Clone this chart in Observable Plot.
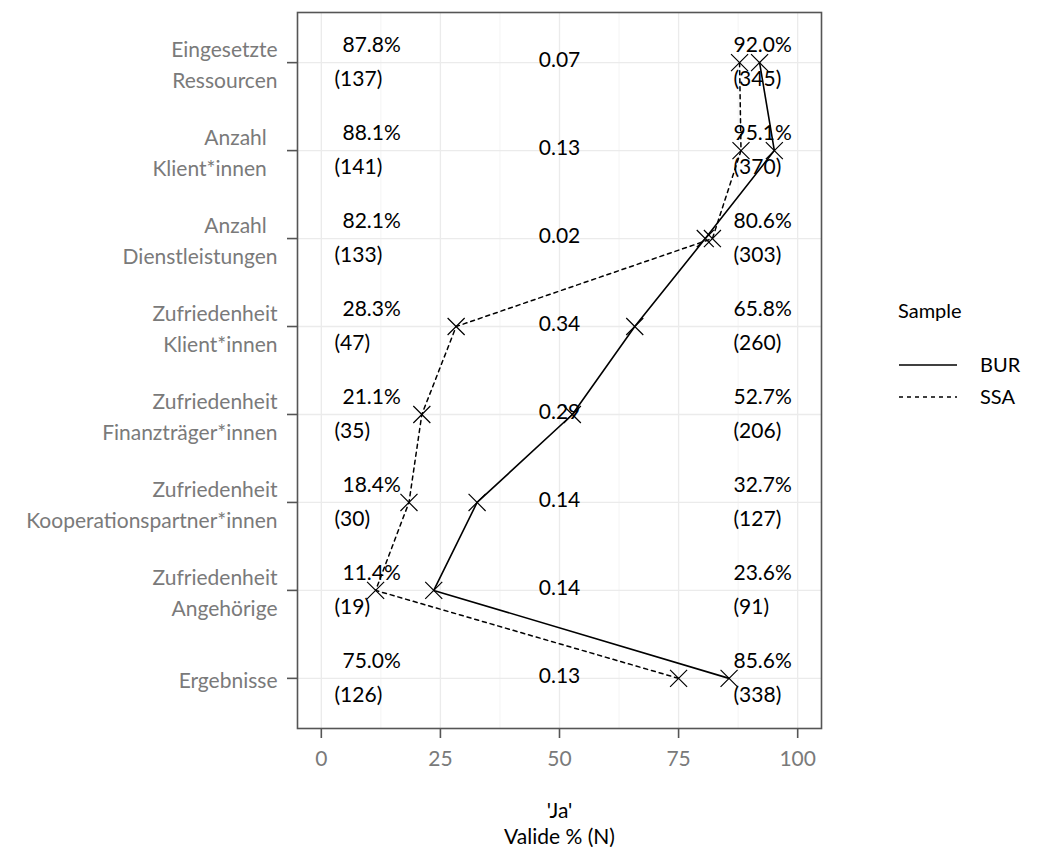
<!DOCTYPE html>
<html>
<head>
<meta charset="utf-8">
<script src="https://cdn.jsdelivr.net/npm/d3@7"></script>
<script src="https://cdn.jsdelivr.net/npm/@observablehq/plot@0.6"></script>
<style>
  body { margin: 0; background: #fff; font-family: Lato, "Open Sans", sans-serif; }
  #wrap { position: relative; width: 1053px; height: 847px; }
  #legend { position: absolute; left: 0; top: 0; }
</style>
</head>
<body>
<div id="wrap"><div id="chart"></div><svg id="legend" width="1053" height="847"></svg></div>
<script>
const categories = [
  "Eingesetzte Ressourcen",
  "Anzahl Klient*innen",
  "Anzahl Dienstleistungen",
  "Zufriedenheit Klient*innen",
  "Zufriedenheit Finanzträger*innen",
  "Zufriedenheit Kooperationspartner*innen",
  "Zufriedenheit Angehörige",
  "Ergebnisse"
];
const tickLabels = [
  "Eingesetzte\nRessourcen",
  "Anzahl\u00a0\u00a0\nKlient*innen\u00a0\u00a0",
  "Anzahl\u00a0\u00a0\nDienstleistungen",
  "Zufriedenheit\nKlient*innen",
  "Zufriedenheit\nFinanzträger*innen",
  "Zufriedenheit\nKooperationspartner*innen",
  "Zufriedenheit\nAngehörige",
  "Ergebnisse"
];
const samples = ["BUR", "SSA"];
const burPct = [92.0, 95.1, 80.6, 65.8, 52.7, 32.7, 23.6, 85.6];
const burN   = [345, 370, 303, 260, 206, 127, 91, 338];
const ssaPct = [87.8, 88.1, 82.1, 28.3, 21.1, 18.4, 11.4, 75.0];
const ssaN   = [137, 141, 133, 47, 35, 30, 19, 126];
const effect = ["0.07", "0.13", "0.02", "0.34", "0.29", "0.14", "0.14", "0.13"];
const xTicks = [0, 25, 50, 75, 100];
const xMinor = [12.5, 37.5, 62.5, 87.5];

const rows = categories.map((c, i) => ({
  cat: c, bur: burPct[i], burN: burN[i], ssa: ssaPct[i], ssaN: ssaN[i], eff: effect[i]
}));
const long = [];
for (const r of rows) {
  long.push({cat: r.cat, sample: "BUR", v: r.bur});
  long.push({cat: r.cat, sample: "SSA", v: r.ssa});
}
const labelOf = new Map(categories.map((c, i) => [c, tickLabels[i]]));
const fmt = v => v.toFixed(1) + "%";
const FS = 21;

const chart = Plot.plot({
  width: 1053,
  height: 847,
  marginLeft: 297,
  marginRight: 232,
  marginTop: 12,
  marginBottom: 119,
  style: {fontFamily: "Lato, 'Open Sans', sans-serif", fontSize: FS + "px", background: "#fff"},
  x: {domain: [-5, 105]},
  y: {type: "point", domain: categories, padding: 0.57, round: false},
  marks: [
    Plot.gridX(xMinor, {stroke: "#f4f4f4", strokeOpacity: 1, strokeWidth: 1}),
    Plot.gridX(xTicks, {stroke: "#ebebeb", strokeOpacity: 1, strokeWidth: 1.3}),
    Plot.gridY(categories, {stroke: "#ebebeb", strokeOpacity: 1, strokeWidth: 1.3}),
    Plot.frame({stroke: "#555", strokeWidth: 1.6}),
    Plot.axisX(xTicks, {tickSize: 10, tickPadding: 13, stroke: "#555", strokeWidth: 1.6, fill: "#7a7a7a", fontSize: FS, label: null}),
    Plot.axisY({tickSize: 10, tickPadding: 10, stroke: "#555", strokeWidth: 1.6, fill: "#7a7a7a", fontSize: FS, lineHeight: 1.5, tickFormat: d => labelOf.get(d), label: null}),
    Plot.line(long.filter(d => d.sample === "SSA"), {x: "v", y: "cat", stroke: "#000", strokeWidth: 1.5, strokeDasharray: "4,4"}),
    Plot.line(long.filter(d => d.sample === "BUR"), {x: "v", y: "cat", stroke: "#000", strokeWidth: 1.6}),
    Plot.dot(long, {x: "v", y: "cat", symbol: "times", r: 7.8, stroke: "#000", strokeWidth: 1.2}),
    Plot.text(rows, {y: "cat", text: d => fmt(d.ssa), frameAnchor: "left", dx: 45, dy: -17, textAnchor: "start", fill: "#000", fontSize: FS}),
    Plot.text(rows, {y: "cat", text: d => "(" + d.ssaN + ")", frameAnchor: "left", dx: 37, dy: 17, textAnchor: "start", fill: "#000", fontSize: FS}),
    Plot.text(rows, {y: "cat", text: d => fmt(d.bur), frameAnchor: "left", dx: 436, dy: -17, textAnchor: "start", fill: "#000", fontSize: FS}),
    Plot.text(rows, {y: "cat", text: d => "(" + d.burN + ")", frameAnchor: "left", dx: 436, dy: 17, textAnchor: "start", fill: "#000", fontSize: FS}),
    Plot.text(rows, {y: "cat", x: () => 50, text: "eff", dy: -2, fill: "#000", fontSize: FS}),
    Plot.text(["'Ja'\nValide % (N)"], {frameAnchor: "bottom", dy: 115, lineHeight: 1.2, fill: "#000", fontSize: FS})
  ]
});
document.getElementById("chart").appendChild(chart);

// Legend
const lg = d3.select("#legend");
lg.append("text").attr("x", 898).attr("y", 311).attr("dy", "0.35em")
  .attr("font-size", 20).attr("fill", "#000").text("Sample");
samples.forEach((s, i) => {
  const y = 365 + i * 32;
  lg.append("line").attr("x1", 899).attr("x2", 957).attr("y1", y).attr("y2", y)
    .attr("stroke", "#000").attr("stroke-width", 1.6)
    .attr("stroke-dasharray", s === "SSA" ? "4,4" : null);
  lg.append("text").attr("x", 980).attr("y", y).attr("dy", "0.35em")
    .attr("font-size", 20).attr("fill", "#000").text(s);
});
</script>
</body>
</html>
